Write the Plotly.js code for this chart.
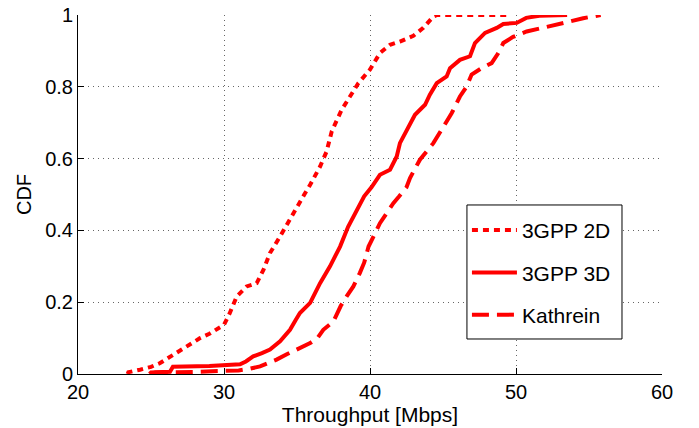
<!DOCTYPE html>
<html><head><meta charset="utf-8">
<script src="https://cdn.plot.ly/plotly-3.0.1.min.js"></script>
<style>html,body{margin:0;padding:0;background:#fff}#c{width:699px;height:428px}</style>
</head><body><div id="c"></div>
<script>
const names = ["3GPP 2D", "3GPP 3D", "Kathrein"];
const x2d = [23.4,23.45,24.25,25.0,25.6,26.3,27.0,27.7,28.36,29.0,29.5,30.0,30.4,30.87,31.55,32.24,32.7,33.15,33.84,34.5,35.0,35.5,35.9,36.58,37.03,37.38,38.06,38.63,39.2,40.0,40.68,41.37,42.05,42.97,43.65,44.34,44.6,49.6];
const y2d = [0,0.005,0.012,0.02,0.03,0.048,0.068,0.085,0.10,0.112,0.123,0.137,0.17,0.216,0.244,0.253,0.29,0.337,0.383,0.43,0.47,0.50,0.527,0.578,0.62,0.676,0.736,0.773,0.81,0.848,0.894,0.917,0.926,0.942,0.964,0.996,1.0,1.0];
const x3d = [24.9,25.0,26.3,26.5,29.0,30.5,31.1,31.5,32.0,32.6,33.15,33.84,34.52,34.9,35.2,35.9,36.58,37.26,37.95,38.5,39.09,39.6,40.1,40.68,41.37,41.83,42.05,42.5,43.08,43.77,44.1,44.57,45.25,45.48,46.16,46.85,47.19,47.88,48.68,49.13,50.05,50.7,51.6,53.5];
const y3d = [0,0.004,0.006,0.02,0.022,0.024,0.027,0.035,0.049,0.058,0.068,0.091,0.123,0.15,0.17,0.198,0.253,0.30,0.355,0.41,0.458,0.495,0.52,0.555,0.569,0.606,0.643,0.68,0.722,0.75,0.778,0.81,0.829,0.852,0.875,0.885,0.922,0.95,0.964,0.975,0.978,0.992,0.998,1.0];
const xK = [25.0,25.3,28.0,31.0,31.8,32.47,33.0,33.6,34.3,34.98,35.9,36.4,36.8,37.5,38.0,38.4,38.86,39.3,39.6,39.9,40.3,40.68,41.14,41.6,42.0,42.5,42.74,43.42,44.34,45.02,45.6,46.16,46.62,46.96,47.65,48.33,48.79,49.13,49.8,50.73,51.64,53.0,53.7,54.6,55.64,55.8];
const yK = [0,0.004,0.006,0.01,0.015,0.021,0.03,0.04,0.055,0.068,0.086,0.10,0.123,0.147,0.19,0.216,0.244,0.281,0.31,0.355,0.39,0.42,0.448,0.476,0.495,0.52,0.546,0.597,0.643,0.69,0.727,0.773,0.801,0.834,0.852,0.866,0.894,0.922,0.939,0.954,0.962,0.973,0.982,0.991,0.998,1.0];
const xTicks = [20,30,40,50,60];
const yTicks = [0,0.2,0.4,0.6,0.8,1];
const yTickText = ["0","0.2","0.4","0.6","0.8","1"];

const red = '#ff0000';
const traces = [
  {x:x2d, y:y2d, name:names[0], legendgroup:'a', mode:'lines', line:{color:red, width:4, dash:'6px,5px'}},
  {x:x3d, y:y3d, name:names[1], legendgroup:'b', mode:'lines', line:{color:red, width:4}},
  {x:xK, y:yK, name:names[2], legendgroup:'c', mode:'lines', line:{color:red, width:4, dash:'17px,8px'}}
];
const ff = 'Liberation Sans, Arial, Helvetica, sans-serif';
const fnt = {family:ff, size:20, color:'#000'};
const layout = {
  width:699, height:428,
  margin:{l:78, r:37, t:15, b:54},
  paper_bgcolor:'#fff', plot_bgcolor:'#fff',
  font:fnt,
  showlegend:true,
  legend:{x:0.666, y:0.457, xanchor:'left', yanchor:'top', borderwidth:0, bgcolor:'rgba(0,0,0,0)',
          font:{family:ff, size:21, color:'#000'}, itemwidth:45, tracegroupgap:12, traceorder:'grouped'},
  shapes:[{type:'rect', xref:'paper', yref:'paper', x0:0.666, x1:0.9315, y0:0.0975, y1:0.4708,
           line:{color:'#000', width:1}, fillcolor:'#fff', layer:'above'}],
  xaxis:{range:[20,60], tickvals:xTicks, ticktext:xTicks.map(String), ticks:'inside', ticklen:6, tickcolor:'#000',
         showline:true, linecolor:'#000', linewidth:1, mirror:false, zeroline:false,
         showgrid:true, gridcolor:'#666', griddash:'1px,4px', gridwidth:1,
         title:{text:'Throughput [Mbps]', font:{family:ff, size:21, color:'#000'}, standoff:1}, tickfont:fnt},
  yaxis:{range:[0,1], tickvals:yTicks, ticktext:yTickText, ticks:'inside', ticklen:6, tickcolor:'#000',
         showline:true, linecolor:'#000', linewidth:1, mirror:false, zeroline:false,
         showgrid:true, gridcolor:'#666', griddash:'1px,4px', gridwidth:1,
         title:{text:'CDF', font:fnt, standoff:8}, tickfont:fnt}
};
Plotly.newPlot('c', traces, layout, {displayModeBar:false, staticPlot:true});
</script></body></html>
